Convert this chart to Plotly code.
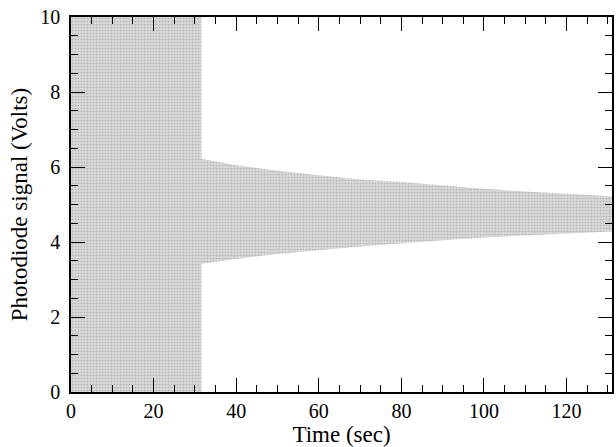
import plotly.graph_objects as go

# Saturated section: signal swings over the full 0-10 V range
sat_time = [0.0, 31.6]
sat_low = [0.0, 0.0]
sat_high = [10.0, 10.0]

# Decaying envelope after the drive is switched off
env_time = [31.6, 40, 50, 60, 70, 80, 90, 100, 110, 120, 131]
env_upper = [6.22, 6.05, 5.90, 5.78, 5.67, 5.60, 5.50, 5.42, 5.35, 5.28, 5.22]
env_lower = [3.42, 3.55, 3.68, 3.78, 3.88, 3.97, 4.05, 4.12, 4.18, 4.23, 4.28]

x_ticks = [0, 20, 40, 60, 80, 100, 120]
y_ticks = [0, 2, 4, 6, 8, 10]

# Outline of the whole signal band as one closed polygon
poly_x = ([sat_time[0], sat_time[0], sat_time[1]] + env_time
          + env_time[::-1] + [sat_time[1], sat_time[0]])
poly_y = ([sat_low[0], sat_high[0], sat_high[1]] + env_upper
          + env_lower[::-1] + [sat_low[1], sat_low[0]])

fig = go.Figure()
fig.add_trace(go.Scatter(
    x=poly_x, y=poly_y, mode="lines", fill="toself",
    line=dict(width=0, color="rgba(0,0,0,0)"),
    fillcolor="#d6d6d6",
    fillpattern=dict(shape=".", bgcolor="#d8d8d8", fgcolor="#8c8c8c",
                     size=3, solidity=0.25),
    hoverinfo="skip", showlegend=False,
))

serif = "Liberation Serif, Times New Roman, serif"
tick_font = dict(family=serif, size=20, color="black")
title_font = dict(family=serif, size=23, color="black")
axis_common = dict(
    showline=True, linecolor="black", linewidth=1.5, mirror="ticks",
    ticks="inside", ticklen=14, tickwidth=1.2, tickcolor="black",
    showgrid=False, zeroline=False, tickfont=tick_font,
)

fig.update_xaxes(
    range=[0, 131], tickvals=x_ticks, ticktext=[str(v) for v in x_ticks],
    minor=dict(dtick=5, tick0=0, ticks="inside", ticklen=7, tickwidth=1, tickcolor="black"),
    title=dict(text="Time (sec)", font=title_font, standoff=5),
    ticklabelstandoff=0,
    **axis_common,
)
fig.update_yaxes(
    range=[0, 10], tickvals=y_ticks, ticktext=[str(v) for v in y_ticks],
    minor=dict(dtick=0.5, tick0=0, ticks="inside", ticklen=7, tickwidth=1, tickcolor="black"),
    title=dict(text="Photodiode signal (Volts)", font=title_font, standoff=6),
    ticklabelstandoff=5,
    **axis_common,
)

fig.update_layout(
    width=616, height=447,
    margin=dict(l=71, r=2, t=17, b=55),
    paper_bgcolor="white", plot_bgcolor="white",
    font=tick_font,
)

fig.write_html("out.html")
